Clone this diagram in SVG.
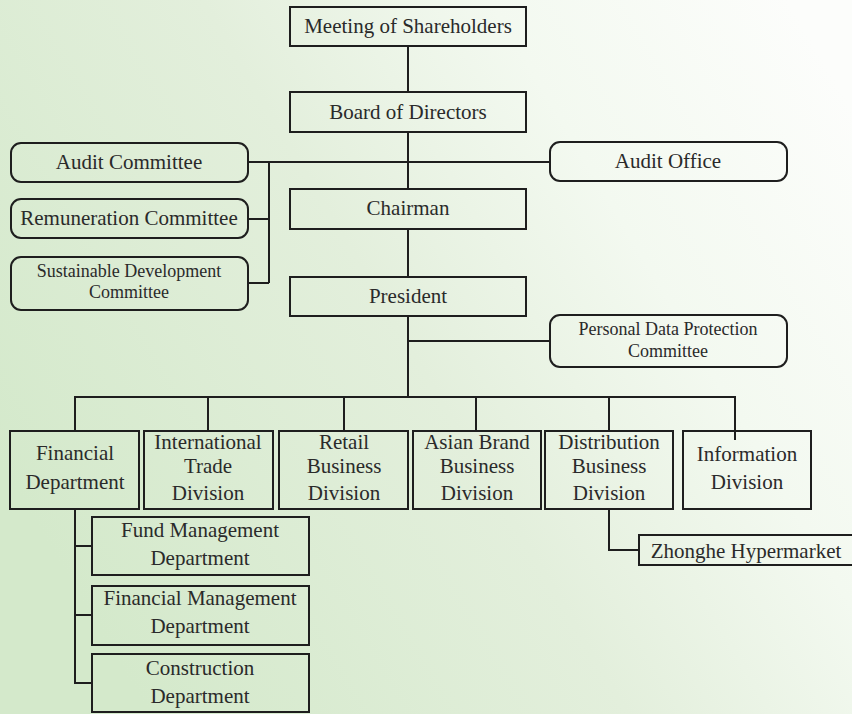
<svg xmlns="http://www.w3.org/2000/svg" width="852" height="714" viewBox="0 0 852 714">
<defs>
<linearGradient id="bg" x1="0" y1="0.65" x2="1" y2="0.15">
<stop offset="0" stop-color="#d4e9cb"/>
<stop offset="0.45" stop-color="#e3efdc"/>
<stop offset="0.72" stop-color="#f3f9f0"/>
<stop offset="1" stop-color="#fcfdfb"/>
</linearGradient>
<style>
.b{fill:none;stroke:#1e1e1e;stroke-width:2}
.c{fill:none;stroke:#1e1e1e;stroke-width:2}
text{font-family:"Liberation Serif","Times New Roman",serif;fill:#2a2a2a;text-anchor:middle}
.t{font-size:21px}
.s{font-size:18px}
</style>
</defs>
<rect width="852" height="714" fill="url(#bg)"/>
<g id="connectors" class="c">
<path d="M408 46V92M408 132V189M408 229V277M408 316V397"/>
<path d="M248 162H550M269 162V283M248 219H269M248 283H269"/>
<path d="M408 341H550"/>
<path d="M75 430V397H735V440M208 397V430M344 397V430M476 397V430M609 397V430"/>
<path d="M609 509V550H639"/>
<path d="M75 509V683H92M75 546H92M75 615H92"/>
</g>
<g id="n-meeting"><rect class="b" x="290" y="7" width="236" height="39"/><text class="t" x="408" y="33">Meeting of Shareholders</text></g>
<g id="n-board"><rect class="b" x="290" y="92" width="236" height="40"/><text class="t" x="408" y="119">Board of Directors</text></g>
<g id="n-chairman"><rect class="b" x="290" y="189" width="236" height="40"/><text class="t" x="408" y="215">Chairman</text></g>
<g id="n-president"><rect class="b" x="290" y="277" width="236" height="39"/><text class="t" x="408" y="303">President</text></g>
<g id="n-audit-committee"><rect class="b" x="11" y="143" width="237" height="39" rx="10"/><text class="t" x="129" y="169">Audit Committee</text></g>
<g id="n-remuneration"><rect class="b" x="11" y="199" width="237" height="39" rx="10"/><text class="t" x="129" y="225">Remuneration Committee</text></g>
<g id="n-sustainable"><rect class="b" x="11" y="257" width="237" height="53" rx="10"/><text class="s" x="129" y="277">Sustainable Development</text><text class="s" x="129" y="298">Committee</text></g>
<g id="n-audit-office"><rect class="b" x="550" y="142" width="237" height="39" rx="10"/><text class="t" x="668" y="168">Audit Office</text></g>
<g id="n-pdpc"><rect class="b" x="550" y="315" width="237" height="52" rx="10"/><text class="s" x="668" y="335">Personal Data Protection</text><text class="s" x="668" y="357">Committee</text></g>
<g id="n-financial"><rect class="b" x="10" y="431" width="129" height="78"/><text class="t" x="75" y="460">Financial</text><text class="t" x="75" y="489">Department</text></g>
<g id="n-international"><rect class="b" x="144" y="431" width="129" height="78"/><text class="t" x="208" y="449">International</text><text class="t" x="208" y="473">Trade</text><text class="t" x="208" y="500">Division</text></g>
<g id="n-retail"><rect class="b" x="279" y="431" width="129" height="78"/><text class="t" x="344" y="449">Retail</text><text class="t" x="344" y="473">Business</text><text class="t" x="344" y="500">Division</text></g>
<g id="n-asian"><rect class="b" x="413" y="431" width="128" height="78"/><text class="t" x="477" y="449">Asian Brand</text><text class="t" x="477" y="473">Business</text><text class="t" x="477" y="500">Division</text></g>
<g id="n-distribution"><rect class="b" x="545" y="431" width="128" height="78"/><text class="t" x="609" y="449">Distribution</text><text class="t" x="609" y="473">Business</text><text class="t" x="609" y="500">Division</text></g>
<g id="n-information"><rect class="b" x="683" y="431" width="128" height="78"/><text class="t" x="747" y="461">Information</text><text class="t" x="747" y="489">Division</text></g>
<g id="n-zhonghe"><rect class="b" x="639" y="535" width="215" height="30"/><text class="t" x="746" y="558">Zhonghe Hypermarket</text></g>
<g id="n-fund"><rect class="b" x="92" y="517" width="217" height="58"/><text class="t" x="200" y="537">Fund Management</text><text class="t" x="200" y="565">Department</text></g>
<g id="n-finmgmt"><rect class="b" x="92" y="586" width="217" height="59"/><text class="t" x="200" y="605">Financial Management</text><text class="t" x="200" y="633">Department</text></g>
<g id="n-construction"><rect class="b" x="92" y="654" width="217" height="58"/><text class="t" x="200" y="675">Construction</text><text class="t" x="200" y="703">Department</text></g>
</svg>
